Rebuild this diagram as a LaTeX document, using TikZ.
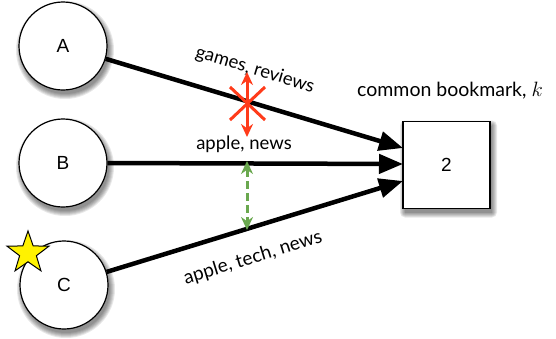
\documentclass[tikz,border=0pt]{standalone}
\usepackage{fontspec}
\setmainfont{Lato}
\newfontfamily\helv{Liberation Sans}
\usetikzlibrary{arrows.meta,shapes.geometric}
\definecolor{xred}{HTML}{FF3B1A}
\definecolor{xgreen}{HTML}{6AA84F}
\tikzset{
  user/.style={circle,draw=black,line width=1.2pt,fill=white,minimum size=88pt,inner sep=0pt,
    font=\helv\fontsize{19}{19}\selectfont},
  bookbox/.style={rectangle,draw=black,line width=1.2pt,fill=white,minimum size=87pt,inner sep=0pt,
    font=\helv\fontsize{19}{19}\selectfont},
  shade/.style={fill=black,fill opacity=0.09,draw=none},
  link/.style={line width=4.5pt,-{Triangle[length=24pt,width=19pt]}},
  lbl/.style={font=\fontsize{18.5}{18.5}\selectfont,inner sep=0pt},
  redarr/.style={xred,line width=3pt,{Stealth[length=13pt,width=12pt]}-{Stealth[length=13pt,width=12pt]}},
  greenarr/.style={xgreen,line width=3pt,dash pattern=on 8pt off 4pt,{Stealth[length=13pt,width=12pt]}-{Stealth[length=13pt,width=12pt]}},
  starmark/.style={star,star points=5,star point ratio=2.5,fill=yellow,draw=black,line width=1pt,minimum size=44pt,inner sep=0pt}
}
\newcommand\mysoftcirc[2]{%
  \foreach \dr in {5,4,3,2,1,0}{\fill[shade] ($(#1,#2)+(2,4)$) circle ({44+\dr});}}
\newcommand\mysoftbox[2]{%
  \foreach \dr in {5,4,3,2,1,0}{\fill[shade,rounded corners=\dr pt] ($(#1,#2)+(2-43.5-\dr,4-43.5-\dr)$) rectangle ($(#1,#2)+(2+43.5+\dr,4+43.5+\dr)$);}}
\usetikzlibrary{calc}
\begin{document}
\begin{tikzpicture}[x=1pt,y=-1pt]
\useasboundingbox (0,0) rectangle (556,338);
\mysoftcirc{63}{46}
\mysoftcirc{63}{163}
\mysoftcirc{64}{285}
\mysoftbox{446.5}{165}
\node[user] (A) at (63,46) {A};
\node[user] (B) at (63,163) {B};
\node[user] (C) at (64,285) {C};
\node[bookbox] (S) at (446.5,165) {2};
\node[starmark] (st) at (28,253) {};
\coordinate (sa) at (403,148);
\coordinate (sb) at (403,164);
\coordinate (sc) at (403,181);
\draw[link] (A) -- (sa);
\draw[link] (B.east) -- (sb);
\draw[link] (C) -- (sc);
\node[lbl,font=\fontsize{19.5}{19.5}\selectfont] (ttl) at (450,91) {common bookmark, $k$};
\node[lbl,rotate=-16.7] (gr) at (255,70) {games, reviews};
\node[lbl] (an) at (244,144) {apple, news};
\node[lbl,rotate=17.2,font=\fontsize{19}{19}\selectfont] (atn) at (253,258) {apple, tech, news};
% red crossed arrows
\coordinate (r1) at (247,72);
\coordinate (r2) at (247,137);
\draw[redarr] (r1) -- (r2);
\coordinate (x1) at (230,87);
\coordinate (x2) at (265,120);
\coordinate (x3) at (230,120);
\coordinate (x4) at (265,87);
\draw[xred,line width=3pt] (x1) -- (x2);
\draw[xred,line width=3pt] (x3) -- (x4);
% green dashed arrow
\coordinate (g1) at (247,161);
\coordinate (g2) at (247,230);
\draw[greenarr] (g1) -- (g2);
\end{tikzpicture}
\end{document}
